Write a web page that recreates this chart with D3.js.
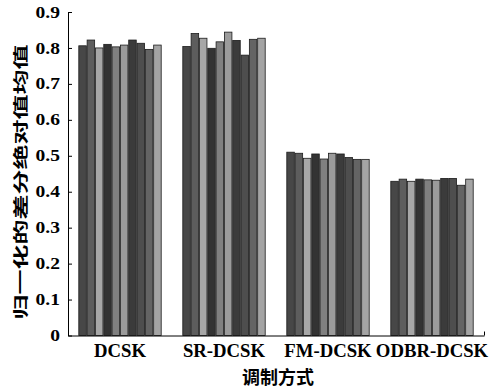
<!DOCTYPE html>
<html>
<head>
<meta charset="utf-8">
<script src="https://cdn.jsdelivr.net/npm/d3@7"></script>
<style>
  html, body { margin: 0; padding: 0; background: #fff; }
  svg { display: block; }
</style>
</head>
<body>
<svg id="chart" width="499" height="389"></svg>
<script>
// Modulation schemes along the x axis
const categories = ["DCSK", "SR-DCSK", "FM-DCSK", "ODBR-DCSK"];

// Normalised mean absolute difference, ten runs per scheme
const dcskValues = [0.806, 0.822, 0.800, 0.810, 0.803, 0.808, 0.822, 0.813, 0.796, 0.808];
const srDcskValues = [0.804, 0.840, 0.827, 0.799, 0.817, 0.844, 0.821, 0.780, 0.824, 0.827];
const fmDcskValues = [0.510, 0.507, 0.493, 0.505, 0.491, 0.507, 0.505, 0.495, 0.490, 0.490];
const odbrDcskValues = [0.429, 0.435, 0.429, 0.435, 0.433, 0.432, 0.437, 0.437, 0.418, 0.435];

const yTickValues = [0, 0.1, 0.2, 0.3, 0.4, 0.5, 0.6, 0.7, 0.8, 0.9];
const yTickLabels = ["0", "0.1", "0.2", "0.3", "0.4", "0.5", "0.6", "0.7", "0.8", "0.9"];

const yTitle = "归一化的差分绝对值均值";
const xTitle = "调制方式";

// Gray shade for each of the ten runs
const runColors = ["#474747", "#5d5d5d", "#a7a7a7", "#333333", "#808080",
                   "#9b9b9b", "#3b3b3b", "#4e4e4e", "#646464", "#a4a4a4"];

const table = [dcskValues, srDcskValues, fmDcskValues, odbrDcskValues];
const runs = d3.range(dcskValues.length);

const svg = d3.select("#chart");
const plot = { left: 68, right: 484, top: 12, bottom: 335.5 };

const x = d3.scaleBand()
  .domain(categories)
  .range([plot.left, plot.right])
  .paddingInner(0.2)
  .paddingOuter(0.1);

const xRun = d3.scaleBand()
  .domain(runs)
  .range([0, x.bandwidth()])
  .padding(0);

const y = d3.scaleLinear()
  .domain([0, 0.9])
  .range([plot.bottom, plot.top]);

// Bars
const groups = svg.append("g")
  .selectAll("g")
  .data(categories)
  .join("g")
  .attr("transform", d => `translate(${x(d)},0)`);

groups.selectAll("rect")
  .data((d, i) => table[i].map((v, r) => ({ v, r })))
  .join("rect")
  .attr("x", d => xRun(d.r) + 0.4)
  .attr("width", xRun.bandwidth() - 0.8)
  .attr("y", d => y(d.v))
  .attr("height", d => y(0) - y(d.v))
  .attr("fill", d => runColors[d.r])
  .attr("stroke", "#1c1c1c")
  .attr("stroke-width", 0.8);

// Y axis: inward ticks, labels drawn separately
const yAxis = d3.axisLeft(y)
  .tickValues(yTickValues)
  .tickSize(-4)
  .tickSizeOuter(0)
  .tickFormat("");

svg.append("g")
  .attr("transform", `translate(${plot.left},0)`)
  .call(yAxis)
  .call(g => g.select(".domain").attr("stroke", "#000").attr("stroke-width", 1))
  .call(g => g.selectAll(".tick line").attr("stroke", "#000"));

svg.append("g")
  .selectAll("text")
  .data(yTickValues)
  .join("text")
  .attr("transform", d => `translate(60,${y(d)}) scale(1.22,1)`)
  .attr("dy", "0.35em")
  .attr("text-anchor", "end")
  .style("font-family", "'Liberation Serif', 'Times New Roman', serif")
  .style("font-weight", "bold")
  .style("font-size", "16px")
  .text((d, i) => yTickLabels[i]);

// X axis line with a short inward tick at its right end
const xAxis = d3.axisBottom(d3.scaleLinear().domain([0, 1]).range([plot.left, plot.right]))
  .tickValues([1])
  .tickSize(-4)
  .tickSizeOuter(0)
  .tickFormat("");

svg.append("g")
  .attr("transform", `translate(0,${plot.bottom})`)
  .call(xAxis)
  .call(g => g.select(".domain").attr("stroke", "#000").attr("stroke-width", 1))
  .call(g => g.selectAll(".tick line").attr("stroke", "#000"));

svg.append("g")
  .selectAll("text")
  .data(categories)
  .join("text")
  .attr("transform", d => `translate(${x(d) + x.bandwidth() / 2},357) scale(1.04,1)`)
  .attr("text-anchor", "middle")
  .style("font-family", "'Liberation Serif', 'Times New Roman', serif")
  .style("font-weight", "bold")
  .style("font-size", "18px")
  .text(d => d);

// Axis titles
svg.append("text")
  .attr("x", 278)
  .attr("y", 384)
  .attr("text-anchor", "middle")
  .style("font-family", "'Noto Sans CJK SC', sans-serif")
  .style("font-weight", "bold")
  .style("font-size", "18px")
  .text(xTitle);

svg.append("text")
  .attr("transform", "translate(26,182) rotate(-90)")
  .attr("text-anchor", "middle")
  .attr("textLength", 275)
  .attr("lengthAdjust", "spacingAndGlyphs")
  .style("font-family", "'Noto Sans CJK SC', sans-serif")
  .style("font-weight", "bold")
  .style("font-size", "15px")
  .text(yTitle);
</script>
</body>
</html>
